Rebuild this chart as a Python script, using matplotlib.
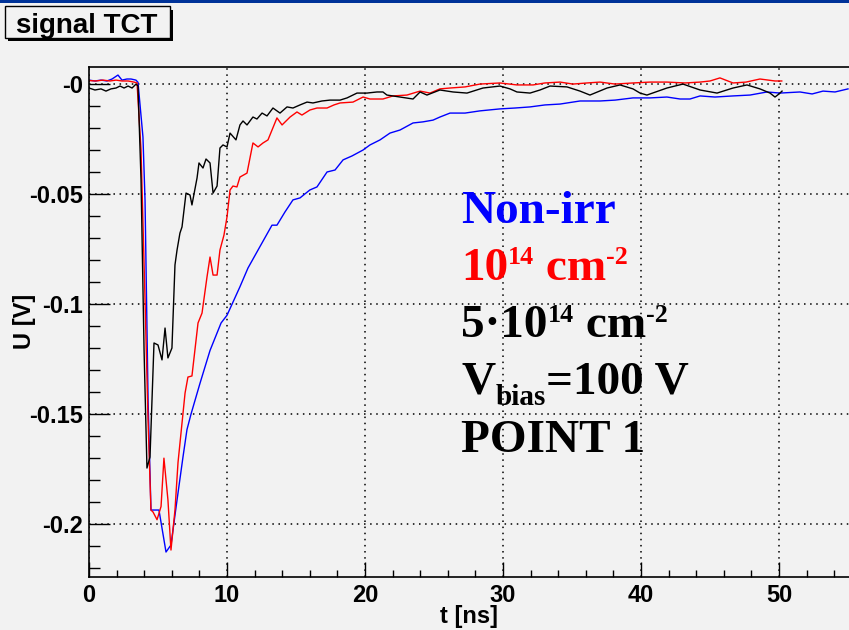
import matplotlib
matplotlib.use("Agg")
import matplotlib.pyplot as plt
from matplotlib.patches import Rectangle
from matplotlib.transforms import IdentityTransform
from matplotlib.ticker import MultipleLocator, FixedLocator, FixedFormatter

# ---------------- data ----------------
t_nonirr = [0, 0.43, 0.87, 1.3, 1.67, 2.1, 2.39, 2.75, 3.04, 3.4, 3.55, 3.91, 4.06, 4.28, 4.49,
            4.78, 5.07, 5.58, 5.94, 6.38, 6.81, 7.1, 7.39, 8.04, 8.77, 9.57, 10.0, 10.94, 11.52,
            12.25, 13.26, 13.62, 14.2, 14.78, 15.29, 16.0, 16.52, 17.25, 17.83, 18.41, 19.06,
            19.86, 20.36, 21.09, 21.81, 22.54, 23.48, 24.2, 24.93, 25.43, 26.16, 27.25, 28.33,
            29.78, 30.87, 31.96, 33.04, 34.13, 35.58, 37.03, 38.12, 39.42, 40.65, 41.88, 42.83,
            43.55, 44.28, 45.36, 46.67, 47.9, 49.13, 50.07, 51.52, 52.4, 53.19, 54.06, 55.0]
u_nonirr = [0.002, 0.0016, 0.002, 0.0016, 0.0025, 0.0043, 0.002, 0.0025, 0.0025, 0.002, 0.001,
            -0.0239, -0.0526, -0.1435, -0.1936, -0.1936, -0.1936, -0.2127, -0.2095, -0.189,
            -0.1695, -0.157, -0.150, -0.136, -0.121, -0.1085, -0.105, -0.092, -0.0835, -0.0753,
            -0.064, -0.064, -0.058, -0.0525, -0.0516, -0.048, -0.0466, -0.0398, -0.0389, -0.0343,
            -0.0325, -0.0298, -0.0275, -0.0252, -0.0221, -0.0207, -0.0175, -0.017, -0.0162,
            -0.0148, -0.013, -0.013, -0.012, -0.0111, -0.0107, -0.0102, -0.0093, -0.0089,
            -0.0075, -0.0075, -0.0071, -0.0061, -0.0061, -0.0057, -0.0066, -0.0066, -0.0052,
            -0.0057, -0.0052, -0.0048, -0.0034, -0.0039, -0.0034, -0.0043, -0.003, -0.0034, -0.002]

t_1e14 = [0, 0.5, 1.0, 1.52, 1.96, 2.39, 2.83, 3.26, 3.48, 3.77, 4.06, 4.28, 4.49, 4.64, 4.93,
          5.22, 5.43, 5.72, 5.94, 6.23, 6.45, 6.96, 7.17, 7.46, 7.9, 8.19, 8.55, 8.77, 8.99, 9.28,
          9.49, 9.78, 10.0, 10.22, 10.43, 10.72, 10.94, 11.45, 11.88, 12.25, 12.61, 12.97, 13.62,
          13.99, 14.57, 15.07, 15.43, 16.01, 16.52, 17.25, 17.75, 18.19, 19.13, 19.86, 20.36,
          21.3, 22.03, 23.04, 23.99, 24.71, 25.43, 26.16, 27.25, 28.33, 29.78, 31.01, 32.17,
          33.04, 34.13, 35.07, 36.09, 37.03, 38.12, 39.42, 40.65, 41.88, 43.19, 44.28, 45.0,
          45.72, 46.67, 47.61, 48.62, 49.71, 50.2]
u_1e14 = [0.0018, 0.0016, 0.002, 0.0016, 0.002, 0.0016, 0.0016, 0.0011, 0.0007, -0.0298, -0.098,
          -0.153, -0.1936, -0.1945, -0.198, -0.192, -0.170, -0.189, -0.2118, -0.1936, -0.172,
          -0.1404, -0.1331, -0.1326, -0.1085, -0.104, -0.0876, -0.0785, -0.0867, -0.0867,
          -0.0753, -0.0685, -0.0603, -0.048, -0.0462, -0.0466, -0.0421, -0.0403, -0.0266,
          -0.0284, -0.0266, -0.0252, -0.0152, -0.0184, -0.0148, -0.0125, -0.0139, -0.0116,
          -0.0107, -0.0107, -0.0093, -0.0084, -0.008, -0.0057, -0.0066, -0.0066, -0.0052,
          -0.0048, -0.003, -0.0039, -0.002, -0.0016, -0.0011, 0.0002, 0.0007, -0.0002, -0.0002,
          0.0007, 0.0011, 0.0002, 0.0007, 0.0011, 0.0002, 0.0007, 0.0011, 0.0011, 0.0007,
          0.0011, 0.0016, 0.003, 0.0007, 0.0011, 0.0025, 0.0016, 0.0016]

t_5e14 = [0, 0.43, 0.87, 1.23, 1.59, 1.96, 2.25, 2.54, 2.83, 3.12, 3.41, 3.55, 3.77, 3.99, 4.2,
          4.42, 4.71, 5.0, 5.29, 5.51, 5.72, 6.01, 6.23, 6.38, 6.59, 6.74, 7.03, 7.32, 7.46, 7.83,
          7.97, 8.26, 8.48, 8.77, 8.99, 9.28, 9.49, 9.71, 10.0, 10.22, 10.65, 10.94, 11.16, 11.45,
          11.88, 12.17, 12.54, 12.9, 13.33, 13.84, 14.35, 14.78, 15.29, 15.8, 16.23, 16.88, 17.46,
          18.19, 18.7, 19.42, 20.14, 20.87, 21.3, 21.59, 22.54, 23.48, 23.99, 24.49, 25.43, 26.38,
          27.39, 28.55, 29.78, 30.51, 31.01, 31.96, 32.68, 33.41, 34.64, 35.58, 36.3, 37.54,
          38.48, 39.42, 39.93, 40.43, 41.88, 43.04, 44.28, 45.51, 46.67, 47.68, 48.62, 49.35,
          49.71, 50.0, 50.22]
u_5e14 = [-0.0016, -0.0025, -0.002, -0.003, -0.002, -0.0016, -0.0007, -0.0016, -0.0007, -0.0016,
          0.0002, -0.0007, -0.0434, -0.121, -0.1745, -0.1695, -0.1176, -0.1185, -0.1253, -0.1108,
          -0.1244, -0.1199, -0.0821, -0.0753, -0.0676, -0.0648, -0.0494, -0.0503, -0.0548,
          -0.0425, -0.0357, -0.038, -0.0339, -0.0357, -0.0494, -0.0462, -0.0289, -0.0275,
          -0.0284, -0.0221, -0.0252, -0.0184, -0.0166, -0.0184, -0.0148, -0.0157, -0.013,
          -0.0143, -0.0107, -0.013, -0.0102, -0.0107, -0.0093, -0.008, -0.0084, -0.0075,
          -0.0071, -0.0071, -0.0061, -0.0039, -0.0039, -0.0034, -0.0034, -0.0048, -0.0057,
          -0.0066, -0.0034, -0.0048, -0.0025, -0.0034, -0.0039, -0.0016, -0.0007, -0.002,
          -0.0034, -0.0039, -0.0025, -0.0007, -0.0011, -0.003, -0.0048, -0.0016, -0.0002,
          -0.002, -0.0039, -0.0048, -0.0016, 0.0002, -0.0025, -0.0039, -0.0016, -0.0002,
          -0.002, -0.0039, -0.0057, -0.0043, -0.003]

x_major = [0, 10, 20, 30, 40, 50]
x_labels = ["0", "10", "20", "30", "40", "50"]
y_major = [0, -0.05, -0.1, -0.15, -0.2]
y_labels = ["-0", "-0.05", "-0.1", "-0.15", "-0.2"]

title = "signal TCT"
xlabel = "t [ns]"
ylabel = "U [V]"

# annotation lines: list of (text, size factor, vertical shift in px) runs
ann_lines = [
    ("#0000ff", [("Non-irr", 1.0, 0)]),
    ("#ff0000", [("10", 1.0, 0), ("14", 0.55, 16), (" cm", 1.0, 0), ("-2", 0.55, 16)]),
    ("black", [("5\u00b710", 1.0, 0), ("14", 0.55, 15), (" cm", 1.0, 0), ("-2", 0.55, 15)]),
    ("black", [("V", 1.0, 0), ("bias", 0.62, -12), ("=100 V", 1.0, 0)]),
    ("black", [("POINT 1", 1.0, 0)]),
]

# ---------------- style ----------------
BG = "#f2f2f2"
W, H = 849, 630
plt.rcParams["font.family"] = ["Liberation Sans", "DejaVu Sans"]

fig = plt.figure(figsize=(W / 100, H / 100), dpi=100, facecolor=BG)

def px(x0, y0, x1, y1):
    return [x0 / W, 1 - y1 / H, (x1 - x0) / W, (y1 - y0) / H]

ax = fig.add_axes(px(89, 66.7, 849, 576.7))
ax.set_facecolor(BG)

ax.plot(t_nonirr, u_nonirr, color="#0000ff", lw=1.0)
ax.plot(t_1e14, u_1e14, color="#ff0000", lw=1.0)
ax.plot(t_5e14, u_5e14, color="black", lw=1.0)

ax.set_xlim(0, (849 - 89) / 13.8)
ax.set_ylim(-(576.7 - 84.5) / 2198, (84.5 - 66.7) / 2198)

ax.xaxis.set_major_locator(FixedLocator(x_major))
ax.xaxis.set_major_formatter(FixedFormatter(x_labels))
ax.xaxis.set_minor_locator(MultipleLocator(2))
ax.yaxis.set_major_locator(FixedLocator(y_major))
ax.yaxis.set_major_formatter(FixedFormatter(y_labels))
ax.yaxis.set_minor_locator(MultipleLocator(0.01))

ax.grid(True, which="major", color="black", linestyle=(0, (1, 3)), lw=1.1)
ax.tick_params(axis="x", which="major", direction="in", length=11, width=1.0, pad=5,
               labelsize=17, top=False)
ax.tick_params(axis="x", which="minor", direction="in", length=5.4, width=1.0, top=False)
ax.tick_params(axis="y", which="major", direction="in", length=15, width=1.0, pad=4.3,
               labelsize=17, right=False)
ax.tick_params(axis="y", which="minor", direction="in", length=7.7, width=1.0, right=False)
for lab in ax.get_xticklabels() + ax.get_yticklabels():
    lab.set_fontweight("bold")
for s in ["left", "bottom", "top"]:
    ax.spines[s].set_linewidth(1.2)
ax.spines["right"].set_visible(False)

ax.set_xlabel(xlabel, fontsize=17, fontweight="bold", labelpad=0)
ax.set_ylabel(ylabel, fontsize=17, fontweight="bold", labelpad=0)
ax.yaxis.set_label_coords(-(89 - 25) / 760, 0.5)
ax.xaxis.set_label_coords(0.5, -(617 - 576.7) / 510)
ax.xaxis.label.set_va("center")
ax.yaxis.label.set_va("center")

# annotation texts, laid out run by run in pixel coordinates
renderer = fig.canvas.get_renderer()
ident = IdentityTransform()
base_size = 34
x_start = 461
baselines = [223.3, 280, 336.7, 393.3, 451.7]
for (color, runs), by in zip(ann_lines, baselines):
    x = x_start
    for txt, fac, dy in runs:
        t = fig.text(x, H - by + dy, txt, transform=ident, color=color,
                     fontsize=base_size * fac, fontweight="bold",
                     family="Liberation Serif", va="baseline", ha="left")
        bb = t.get_window_extent(renderer)
        x = bb.x1

# top bar
fig.patches.append(Rectangle((0, 1 - 3 / H), 1, 3 / H, transform=fig.transFigure,
                             facecolor="#003399", edgecolor="none", zorder=5))
# title box with shadow
fig.patches.append(Rectangle((8 / W, 1 - 41 / H), 165 / W, 31 / H, transform=fig.transFigure,
                             facecolor="black", edgecolor="none", zorder=5))
fig.patches.append(Rectangle((4.5 / W, 1 - 37.5 / H), 165 / W, 31 / H, transform=fig.transFigure,
                             facecolor=BG, edgecolor="black", lw=1.0, zorder=6))
fig.text(16 / W, 1 - 33.3 / H, title, fontsize=20, fontweight="bold", va="baseline",
         ha="left", zorder=7)

fig.savefig("out.png", dpi=100, facecolor=BG)
